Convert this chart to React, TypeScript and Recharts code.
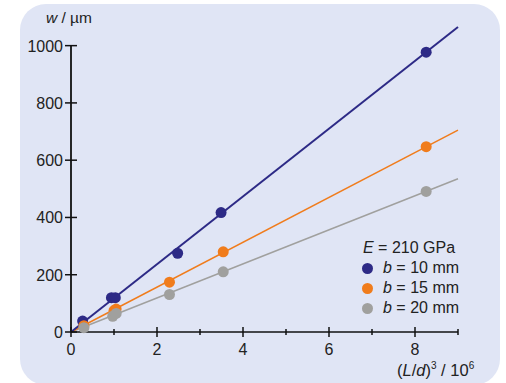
import React from "react";
import { ComposedChart, Line, Scatter, XAxis, YAxis, ReferenceLine } from "recharts";

// measured points, x = (L/d)^3 / 10^6, y = w / µm
const x10 = [0.27, 0.94, 1.03, 2.48, 3.49, 8.26];
const w10 = [38, 120, 120, 275, 417, 977];
const x15 = [0.3, 1.0, 1.05, 2.29, 3.54, 8.26];
const w15 = [22, 75, 80, 174, 280, 647];
const x20 = [0.3, 0.97, 1.05, 2.29, 3.54, 8.26];
const w20 = [15, 55, 65, 131, 210, 491];

// fitted straight lines through the origin
const fitX = [0, 9];
const fit10 = [0, 1065];
const fit15 = [0, 705];
const fit20 = [0, 535];

const widths = [10, 15, 20];
const xTicks = [0, 1, 2, 3, 4, 5, 6, 7, 8, 9];
const yTicks = [0, 200, 400, 600, 800, 1000];

const BLUE = "#2d2a86";
const ORANGE = "#f07c1c";
const GRAY = "#a0a09e";
const COLORS = [BLUE, ORANGE, GRAY];
const FONT = "'Liberation Sans', Arial, sans-serif";

const toPts = (xs: number[], ys: number[]) => xs.map((x, i) => ({ x, y: ys[i] }));

const XTick = (props: any) => {
  const { x, y, payload } = props;
  const major = payload.value % 2 === 0;
  const len = major ? 5 : 3;
  return (
    <g>
      <line x1={x} x2={x} y1={y - len} y2={y + len} stroke="#111" strokeWidth={1.5} />
      {major && (
        <text x={x} y={y + 23} textAnchor="middle" fontSize={16} fill="#222" fontFamily={FONT}>
          {payload.value}
        </text>
      )}
    </g>
  );
};

const YTick = (props: any) => {
  const { x, y, payload } = props;
  return (
    <g>
      <line x1={x - 6} x2={x + 6} y1={y} y2={y} stroke="#111" strokeWidth={1.5} />
      <text x={x - 8} y={y + 6} textAnchor="end" fontSize={16} fill="#222" fontFamily={FONT}>
        {payload.value}
      </text>
    </g>
  );
};

export default function App() {
  const dot = (color: string) => (p: any) => <circle cx={p.cx} cy={p.cy} r={5.5} fill={color} />;
  return (
    <div style={{ position: "absolute", left: 0, top: 0, width: 506, height: 383, overflow: "hidden" }}>
      <div
        style={{ position: "absolute", left: 20, top: 4, width: 480, height: 381, borderRadius: 26, background: "#e0e5f5" }}
      />
      <div style={{ position: "absolute", left: 0, top: 0 }}>
        <ComposedChart width={506} height={383} margin={{ top: 17, right: 48, bottom: 21, left: 21 }}>
          <XAxis
            type="number"
            dataKey="x"
            domain={[0, 9]}
            ticks={xTicks}
            interval={0}
            tickSize={0}
            tickMargin={0}
            tickLine={false}
            tick={<XTick />}
            axisLine={{ stroke: "#111", strokeWidth: 1.5 }}
            height={30}
          />
          <YAxis
            type="number"
            domain={[0, 1100]}
            ticks={yTicks}
            interval={0}
            tickSize={0}
            tickMargin={0}
            tickLine={false}
            tick={<YTick />}
            axisLine={false}
            width={50}
          />
          <ReferenceLine
            segment={[
              { x: 0, y: 0 },
              { x: 0, y: 1000 },
            ]}
            stroke="#111"
            strokeWidth={1.8}
          />
          <Line data={toPts(fitX, fit20)} dataKey="y" stroke={GRAY} strokeWidth={1.5} dot={false} isAnimationActive={false} />
          <Line data={toPts(fitX, fit15)} dataKey="y" stroke={ORANGE} strokeWidth={1.5} dot={false} isAnimationActive={false} />
          <Line data={toPts(fitX, fit10)} dataKey="y" stroke={BLUE} strokeWidth={2} dot={false} isAnimationActive={false} />
          <Scatter name="b = 10 mm" data={toPts(x10, w10)} dataKey="y" fill={BLUE} shape={dot(BLUE)} isAnimationActive={false} />
          <Scatter name="b = 15 mm" data={toPts(x15, w15)} dataKey="y" fill={ORANGE} shape={dot(ORANGE)} isAnimationActive={false} />
          <Scatter name="b = 20 mm" data={toPts(x20, w20)} dataKey="y" fill={GRAY} shape={dot(GRAY)} isAnimationActive={false} />
        </ComposedChart>
      </div>
      <div
        style={{ position: "absolute", left: 362, top: 238, fontFamily: FONT, fontSize: 16, color: "#222", lineHeight: "20px" }}
      >
        <div style={{ marginLeft: 1 }}>
          <i>E</i> = 210 GPa
        </div>
        {widths.map((w, i) => (
          <div key={w} style={{ display: "flex", alignItems: "center" }}>
            <span
              style={{ width: 11, height: 11, borderRadius: 6, background: COLORS[i], display: "inline-block", marginRight: 10 }}
            />
            <span>
              <i>b</i> = {w} mm
            </span>
          </div>
        ))}
      </div>
      <div style={{ position: "absolute", left: 46, top: 9, fontFamily: FONT, fontSize: 15.5, color: "#222" }}>
        <i>w</i> / µm
      </div>
      <div style={{ position: "absolute", left: 397, top: 356, fontFamily: FONT, fontSize: 16.5, color: "#222", lineHeight: "20px" }}>
        (<i>L</i>/<i>d</i>)<sup style={{ fontSize: 10 }}>3</sup> / 10<sup style={{ fontSize: 10 }}>6</sup>
      </div>
    </div>
  );
}
